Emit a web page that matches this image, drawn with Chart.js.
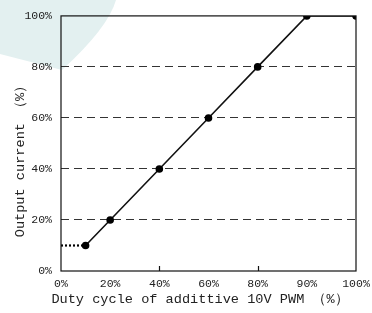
<!DOCTYPE html>
<html>
<head>
<meta charset="utf-8">
<script src="https://cdn.jsdelivr.net/npm/chart.js@4/dist/chart.umd.min.js"></script>
<style>
  html, body { margin: 0; padding: 0; background: #fff; }
  #wrap { width: 372px; height: 313px; }
</style>
</head>
<body>
<div id="wrap"><canvas id="pwm-chart"></canvas></div>
<script>
'use strict';

// x axis categories (evenly spaced, index based)
const xLabels = ['0%', '20%', '40%', '60%', '80%', '90%', '100%'];
// points placed on the category index scale
const xPos = [0.5, 1, 2, 3, 4, 5, 6];
const yValues = [10, 20, 40, 60, 80, 100, 100];
// dotted lead-in from the axis to the first point
const leadX = [0, 0.5];
const leadY = [10, 10];
const yTicks = [0, 20, 40, 60, 80, 100];
const xTitle = 'Duty cycle of addittive 10V PWM （%）';
const yTitle = 'Output current （%）';

const FONT = '"Liberation Mono", "DejaVu Sans Mono", monospace';

const decor = {
    id: 'decor',
    beforeDraw(chart) {
        const ctx = chart.ctx;
        ctx.save();
        ctx.fillStyle = '#e3f0f0';
        ctx.beginPath();
        ctx.moveTo(0, 0);
        ctx.lineTo(116, 0);
        ctx.quadraticCurveTo(108, 28, 62, 70);
        ctx.lineTo(0, 54);
        ctx.closePath();
        ctx.fill();
        ctx.restore();
    },
    afterDatasetsDraw(chart) {
        const {ctx, chartArea: a, scales} = chart;
        ctx.save();
        ctx.strokeStyle = '#111';
        ctx.lineWidth = 1.2;
        ctx.strokeRect(a.left, a.top, a.right - a.left, a.bottom - a.top);
        // small inner tick marks on the x axis
        [2, 4].forEach(i => {
            const px = Math.round(scales.x.getPixelForValue(i)) + 0.5;
            ctx.beginPath();
            ctx.moveTo(px, a.bottom);
            ctx.lineTo(px, a.bottom - 5);
            ctx.stroke();
        });
        // axis titles
        ctx.fillStyle = '#222';
        ctx.font = '13.6px ' + FONT;
        ctx.textAlign = 'center';
        ctx.textBaseline = 'middle';
        ctx.fillText(xTitle, 200, 299);
        ctx.translate(20, 158);
        ctx.rotate(-Math.PI / 2);
        ctx.fillText(yTitle, 0, 0);
        ctx.restore();
    }
};

const config = {
    type: 'scatter',
    data: {
        datasets: [
            {
                data: xPos.map((x, i) => ({x: x, y: yValues[i]})),
                showLine: true,
                borderColor: '#111',
                borderWidth: 1.6,
                pointRadius: 3,
                pointBackgroundColor: '#000',
                pointBorderColor: '#000',
            },
            {
                data: leadX.map((x, i) => ({x: x, y: leadY[i]})),
                showLine: true,
                borderColor: '#000',
                borderWidth: 2.2,
                borderDash: [2, 2],
                pointRadius: 0,
            }
        ]
    },
    options: {
        responsive: true,
        maintainAspectRatio: false,
        animation: false,
        layout: { padding: { left: 0, right: 16, top: 14, bottom: 0 } },
        plugins: { legend: false, tooltip: { enabled: false } },
        scales: {
            x: {
                type: 'linear',
                min: 0,
                max: 6,
                afterBuildTicks: s => { s.ticks = xLabels.map((_, i) => ({value: i})); },
                afterFit: s => { s.height = 42; s.paddingRight = 0; s.paddingLeft = 0; },
                grid: { display: false, drawTicks: false },
                border: { display: false },
                ticks: {
                    color: '#222',
                    font: { family: FONT, size: 11.5 },
                    padding: 6,
                    maxRotation: 0,
                    callback: v => xLabels[v],
                },
            },
            y: {
                min: 0,
                max: 100,
                afterBuildTicks: s => { s.ticks = yTicks.map(v => ({value: v})); },
                afterFit: s => { s.width = 61; },
                grid: {
                    color: c => (c.tick && (c.tick.value === 0 || c.tick.value === 100)) ? 'rgba(0,0,0,0)' : '#333',
                    lineWidth: 1,
                    drawTicks: false,
                },
                border: { display: false, dash: [8, 5] },
                ticks: {
                    color: '#222',
                    font: { family: FONT, size: 11.5 },
                    padding: 9,
                    callback: v => v + '%',
                },
            }
        }
    },
    plugins: [decor]
};

new Chart(document.getElementById('pwm-chart'), config);
</script>
</body>
</html>
